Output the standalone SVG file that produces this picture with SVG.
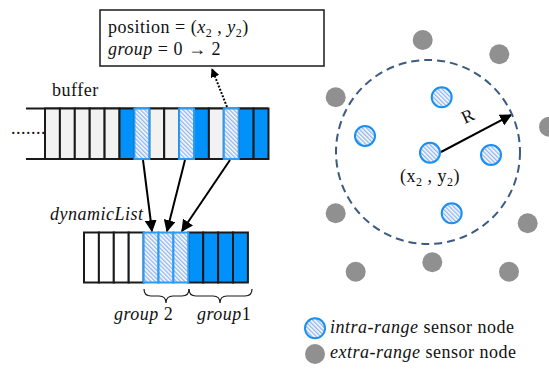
<svg xmlns="http://www.w3.org/2000/svg" width="549" height="369" viewBox="0 0 549 369" font-family="'Liberation Serif', 'Times New Roman', serif">
<defs>
<pattern id="hatch" width="3" height="3" patternUnits="userSpaceOnUse" patternTransform="rotate(-45)">
<rect width="3" height="3" fill="#ffffff"/>
<rect width="1.4" height="3" fill="#8fb4ee"/>
</pattern>
<marker id="ah" viewBox="0 0 10 10" refX="9" refY="5" markerWidth="6" markerHeight="6" orient="auto">
<path d="M0,0 L10,5 L0,10 z" fill="#000"/>
</marker>
<marker id="ahs" viewBox="0 0 10 10" refX="9" refY="5" markerWidth="4.5" markerHeight="4.5" orient="auto">
<path d="M0,0 L10,5 L0,10 z" fill="#000"/>
</marker>
</defs>
<style>
.g{fill:#f2f2f2;stroke:#1a1a1a;stroke-width:2}
.w{fill:#ffffff;stroke:#1a1a1a;stroke-width:2}
.b{fill:#0091fa;stroke:#1a1a1a;stroke-width:2}
.h{fill:url(#hatch);stroke:#2a9cf5;stroke-width:2}
.t{font-family:'Liberation Serif','Times New Roman',serif;font-size:18px;letter-spacing:0.5px;fill:#111}
.i{font-style:italic}
.in{fill:url(#hatch);stroke:#1a8ff0;stroke-width:2}
.ex{fill:#909090}
.arr{stroke:#000;stroke-width:2;fill:none}
</style>

<g id="infobox">
<rect x="100" y="10" width="224" height="56" fill="#fff" stroke="#1a1a1a" stroke-width="1.5"/>
<text class="t" x="108" y="33">position = (<tspan class="i">x</tspan><tspan font-size="12" dy="4">2</tspan><tspan dy="-4"> , </tspan><tspan class="i">y</tspan><tspan font-size="12" dy="4">2</tspan><tspan dy="-4">)</tspan></text>
<text class="t" x="108" y="55"><tspan class="i">group</tspan> = 0 → 2</text>
</g>

<g id="buffer">
<text class="t" x="52" y="96">buffer</text>
<text class="t" x="11" y="134" font-size="11px" letter-spacing="0.2">.........</text>
<line x1="26" y1="108.5" x2="268" y2="108.5" stroke="#1a1a1a" stroke-width="2"/>
<line x1="26" y1="159" x2="268" y2="159" stroke="#1a1a1a" stroke-width="2"/>
<rect class="g" x="45" y="108.5" width="14.9" height="50.5"/>
<rect class="g" x="59.9" y="108.5" width="14.9" height="50.5"/>
<rect class="g" x="74.8" y="108.5" width="14.9" height="50.5"/>
<rect class="g" x="89.7" y="108.5" width="14.9" height="50.5"/>
<rect class="g" x="104.6" y="108.5" width="14.9" height="50.5"/>
<rect class="b" x="119.5" y="108.5" width="14.9" height="50.5"/>
<rect class="g" x="149.3" y="108.5" width="14.9" height="50.5"/>
<rect class="g" x="164.2" y="108.5" width="14.9" height="50.5"/>
<rect class="b" x="194" y="108.5" width="14.9" height="50.5"/>
<rect class="g" x="208.9" y="108.5" width="14.9" height="50.5"/>
<rect class="b" x="238.7" y="108.5" width="14.9" height="50.5"/>
<rect class="b" x="253.6" y="108.5" width="14.9" height="50.5"/>
<rect class="h" x="134.4" y="108.5" width="14.9" height="50.5"/>
<rect class="h" x="179.1" y="108.5" width="14.9" height="50.5"/>
<rect class="h" x="223.8" y="108.5" width="14.9" height="50.5"/>
</g>

<g id="dynamicList">
<text class="t i" x="50" y="220">dynamicList</text>
<rect class="w" x="84" y="232.5" width="14.9" height="50"/>
<rect class="w" x="98.9" y="232.5" width="14.9" height="50"/>
<rect class="w" x="113.8" y="232.5" width="14.9" height="50"/>
<rect class="w" x="128.7" y="232.5" width="14.9" height="50"/>
<rect class="b" x="188.3" y="232.5" width="14.9" height="50"/>
<rect class="b" x="203.2" y="232.5" width="14.9" height="50"/>
<rect class="b" x="218.1" y="232.5" width="14.9" height="50"/>
<rect class="b" x="233" y="232.5" width="14.9" height="50"/>
<rect class="h" x="143.6" y="232.5" width="14.9" height="50"/>
<rect class="h" x="158.5" y="232.5" width="14.9" height="50"/>
<rect class="h" x="173.4" y="232.5" width="14.9" height="50"/>
</g>

<g id="braces" fill="none" stroke="#1a1a1a" stroke-width="1.2">
<path d="M144,289 Q144,296 151,296 L159,296 Q166,296 166,303 Q166,296 173,296 L182,296 Q189,296 189,289"/>
<path d="M189,289 Q189,296 196,296 L213,296 Q220,296 220,303 Q220,296 227,296 L245,296 Q252,296 252,289"/>
<text class="t i" x="114" y="320" stroke="none">group <tspan font-style="normal">2</tspan></text>
<text class="t i" x="197" y="320" stroke="none">group<tspan font-style="normal">1</tspan></text>
</g>

<g id="connectors">
<line class="arr" x1="143" y1="160" x2="152" y2="231" marker-end="url(#ah)"/>
<line class="arr" x1="185" y1="160" x2="167" y2="231" marker-end="url(#ah)"/>
<line class="arr" x1="230" y1="160" x2="182" y2="231" marker-end="url(#ah)"/>
<line class="arr" x1="227" y1="107" x2="212" y2="69" stroke-dasharray="2,1.5" marker-end="url(#ahs)"/>
<line class="arr" x1="441" y1="152" x2="511" y2="115" marker-end="url(#ah)"/>
</g>

<g id="range">
<circle cx="428" cy="152" r="92" fill="none" stroke="#3b5b82" stroke-width="2" stroke-dasharray="8,5"/>
<text class="t" x="462" y="122" font-size="17px" transform="rotate(-25 468 117)">R</text>
<text class="t" x="400" y="182">(x<tspan font-size="12" dy="4">2</tspan><tspan dy="-4"> , y</tspan><tspan font-size="12" dy="4">2</tspan><tspan dy="-4">)</tspan></text>
</g>

<g id="extra-nodes">
<circle class="ex" cx="422.7" cy="40" r="10"/>
<circle class="ex" cx="499.3" cy="54.3" r="10"/>
<circle class="ex" cx="335.7" cy="97.3" r="10"/>
<circle class="ex" cx="549" cy="126.7" r="10"/>
<circle class="ex" cx="335.7" cy="213.3" r="10"/>
<circle class="ex" cx="527.7" cy="223.3" r="10"/>
<circle class="ex" cx="355.7" cy="271.7" r="10"/>
<circle class="ex" cx="432.3" cy="262.3" r="10"/>
<circle class="ex" cx="509" cy="271.7" r="10"/>
</g>

<g id="intra-nodes">
<circle class="in" cx="441.7" cy="97.3" r="10"/>
<circle class="in" cx="365" cy="136" r="10"/>
<circle class="in" cx="430" cy="152.7" r="10"/>
<circle class="in" cx="491" cy="155" r="10"/>
<circle class="in" cx="451.7" cy="213.3" r="10"/>
</g>

<g id="legend">
<circle class="in" cx="315" cy="328.3" r="10"/>
<circle class="ex" cx="315" cy="354" r="10"/>
<text class="t" x="330" y="333"><tspan class="i">intra-range</tspan> sensor node</text>
<text class="t" x="330" y="358"><tspan class="i">extra-range</tspan> sensor node</text>
</g>
</svg>
